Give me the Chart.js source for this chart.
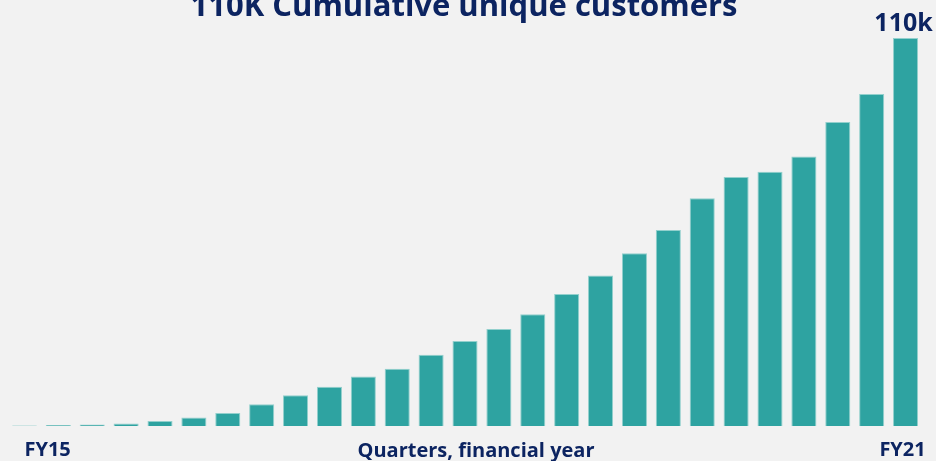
<!DOCTYPE html>
<html>
<head>
<meta charset="utf-8">
<script src="https://cdn.jsdelivr.net/npm/chart.js@4"></script>
<style>
  html, body { margin: 0; padding: 0; background: #f2f2f2; }
  #wrap { width: 936px; height: 461px; position: relative; }
</style>
</head>
<body>
<div id="wrap"><canvas id="customers"></canvas></div>
<script>
const chartTitle = "110K Cumulative unique customers";
const axisCaption = "Quarters, financial year";
const firstLabel = "FY15";
const lastLabel = "FY21";

// one bar per quarter, cumulative customers in thousands
const quarters = [
  "Q1", "Q2", "Q3", "Q4", "Q5", "Q6", "Q7", "Q8", "Q9",
  "Q10", "Q11", "Q12", "Q13", "Q14", "Q15", "Q16", "Q17", "Q18",
  "Q19", "Q20", "Q21", "Q22", "Q23", "Q24", "Q25", "Q26", "Q27",
];
const customersK = [
  0.15, 0.25, 0.45, 0.7, 1.4, 2.4, 3.7, 6.2, 8.7,
  11.1, 14.0, 16.2, 20.2, 24.1, 27.5, 31.7, 37.4, 42.7,
  49.0, 55.6, 64.6, 70.6, 72.1, 76.4, 86.2, 94.1, 110,
];

const NAVY = "#0c2461";
const TEAL = "#2ea3a1";
const FONT = "'Open Sans', sans-serif";

const textPlugin = {
  id: "customText",
  afterDraw(chart) {
    const { ctx, chartArea } = chart;
    const bars = chart.getDatasetMeta(0).data;
    const lastBar = bars[bars.length - 1];
    const lastValue = customersK[customersK.length - 1];
    const midX = (chartArea.left + chartArea.right) / 2;

    ctx.save();
    ctx.fillStyle = NAVY;
    ctx.textBaseline = "alphabetic";

    ctx.font = `bold 31px ${FONT}`;
    ctx.textAlign = "center";
    ctx.fillText(chartTitle, midX - 1, 16);

    ctx.font = `bold 25px ${FONT}`;
    ctx.fillText(`${Math.round(lastValue)}k`, lastBar.x - 2, lastBar.y - 7);

    ctx.font = `bold 20px ${FONT}`;
    ctx.textAlign = "left";
    ctx.fillText(firstLabel, bars[0].x, 456);
    ctx.textAlign = "center";
    ctx.fillText(lastLabel, lastBar.x - 3, 456);
    ctx.fillText(axisCaption, midX + 11, 457);
    ctx.restore();
  },
};

new Chart(document.querySelector("#customers"), {
  type: "bar",
  data: {
    labels: quarters,
    datasets: [
      {
        data: customersK,
        backgroundColor: TEAL,
        borderColor: "#93d0cd",
        borderWidth: 1,
        barPercentage: 0.74,
        categoryPercentage: 1,
      },
    ],
  },
  options: {
    responsive: true,
    maintainAspectRatio: false,
    animation: false,
    layout: { padding: { left: 7.5, right: 13.5, top: 38, bottom: 35 } },
    plugins: {
      legend: { display: false },
      tooltip: { enabled: false },
    },
    scales: {
      x: { display: false },
      y: { display: false, min: 0, max: 110 },
    },
  },
  plugins: [textPlugin],
});
</script>
</body>
</html>
